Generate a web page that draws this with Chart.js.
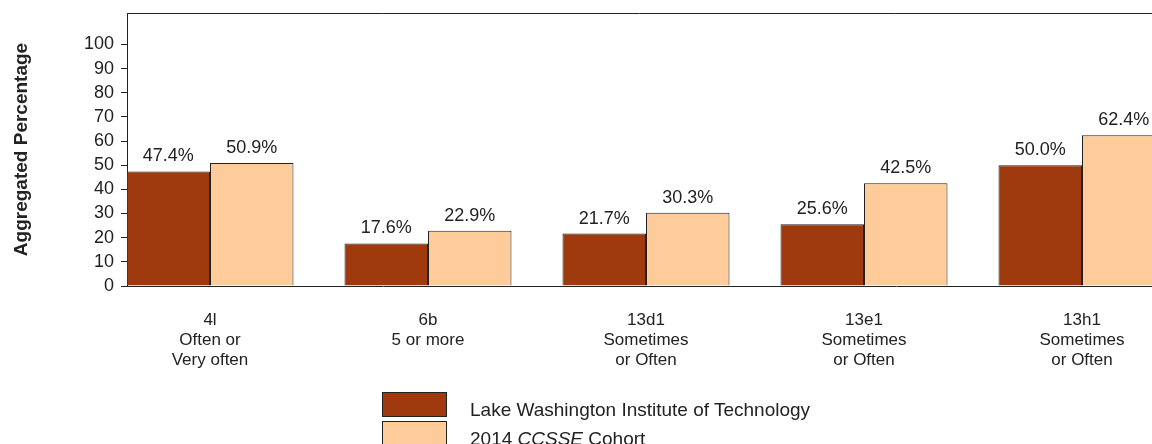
<!DOCTYPE html>
<html lang="en">
<head>
  <meta charset="UTF-8">
  <title>Aggregated Percentage</title>
  <script src="https://cdn.jsdelivr.net/npm/chart.js"></script>
  <style>
    body {
      margin: 0;
      padding: 0;
      background: #ffffff;
      overflow: hidden;
      font-family: "Liberation Sans", Arial, sans-serif;
      color: #222;
    }

    .wrap {
      position: relative;
      width: 1152px;
      height: 444px;
    }

    .legenda-box {
      position: absolute;
      left: 382px;
      width: 63px;
      height: 23px;
      border: 1px solid #222;
    }

    .legenda-txt {
      position: absolute;
      left: 470px;
      font-size: 19px;
      line-height: 19px;
      white-space: nowrap;
    }
  </style>
</head>
<body>
  <div class="wrap">
    <canvas id="grafico" width="1152" height="444"></canvas>
    <div class="legenda-box" style="top:392px; background:#9e3a0e;"></div>
    <div class="legenda-box" style="top:421px; background:#fecb9a;"></div>
    <div class="legenda-txt" style="top:400px;">Lake Washington Institute of Technology</div>
    <div class="legenda-txt" style="top:429px;">2014 <i>CCSSE</i> Cohort</div>
  </div>

  <script>
    // dados
    const categorias = [
      ['4l', 'Often or', 'Very often'],
      ['6b', '5 or more'],
      ['13d1', 'Sometimes', 'or Often'],
      ['13e1', 'Sometimes', 'or Often'],
      ['13h1', 'Sometimes', 'or Often']
    ];
    const faculdade = [47.4, 17.6, 21.7, 25.6, 50.0];
    const cohort = [50.9, 22.9, 30.3, 42.5, 62.4];
    const yTicks = [0, 10, 20, 30, 40, 50, 60, 70, 80, 90, 100];

    const fonte = '"Liberation Sans", Arial, sans-serif';
    const corLinha = '#222';

    // rotulos em cima das barras + linha do topo
    const rotulos = {
      id: 'rotulos',
      afterDatasetsDraw(chart) {
        const ctx = chart.ctx;
        const area = chart.chartArea;
        ctx.save();
        ctx.strokeStyle = corLinha;
        ctx.lineWidth = 1;
        ctx.beginPath();
        ctx.moveTo(area.left, area.top + 0.5);
        ctx.lineTo(area.right, area.top + 0.5);
        ctx.stroke();

        ctx.font = '18px ' + fonte;
        ctx.fillStyle = '#222';
        ctx.textAlign = 'center';
        ctx.textBaseline = 'alphabetic';
        chart.data.datasets.forEach((ds, i) => {
          chart.getDatasetMeta(i).data.forEach((bar, j) => {
            ctx.fillText(ds.data[j].y.toFixed(1) + '%', bar.x, bar.y - 10);
          });
        });
        ctx.restore();
      }
    };

    new Chart(document.getElementById('grafico'), {
      type: 'bar',
      data: {
        datasets: [
          {
            label: 'Lake Washington Institute of Technology',
            data: faculdade.map((v, i) => ({ x: i, y: v })),
            backgroundColor: '#9e3a0e',
            borderColor: corLinha,
            borderWidth: 1
          },
          {
            label: '2014 CCSSE Cohort',
            data: cohort.map((v, i) => ({ x: i, y: v })),
            backgroundColor: '#fecb9a',
            borderColor: corLinha,
            borderWidth: 1
          }
        ]
      },
      options: {
        responsive: false,
        animation: false,
        layout: { padding: { top: 13, right: 0, left: 0, bottom: 0 } },
        categoryPercentage: 0.766,
        barPercentage: 1,
        plugins: {
          legend: { display: false },
          tooltip: { enabled: false }
        },
        scales: {
          x: {
            type: 'linear',
            offset: false,
            min: -0.3807,
            max: 4.3211,
            grid: { display: false, drawTicks: false, offset: false },
            border: { display: true, color: corLinha, width: 1 },
            afterBuildTicks: (axis) => {
              axis.ticks = categorias.map((c, i) => ({ value: i }));
            },
            afterFit: (axis) => {
              axis.height = 158;
              axis.paddingLeft = 0;
              axis.paddingRight = 0;
            },
            ticks: {
              padding: 24,
              autoSkip: false,
              maxRotation: 0,
              color: '#222',
              font: { family: fonte, size: 17, lineHeight: '20px' },
              callback: (v) => categorias[v]
            }
          },
          y: {
            min: 0,
            max: 113,
            afterBuildTicks: (axis) => {
              axis.ticks = yTicks.map(v => ({ value: v }));
            },
            afterFit: (axis) => {
              axis.width = 127;
              axis.paddingTop = 0;
              axis.paddingBottom = 0;
            },
            grid: {
              drawOnChartArea: false,
              drawTicks: true,
              tickLength: 6,
              color: corLinha
            },
            border: { display: true, color: corLinha, width: 1 },
            ticks: {
              padding: 7,
              color: '#222',
              font: { family: fonte, size: 18 }
            },
            title: {
              display: true,
              text: 'Aggregated Percentage',
              color: '#222',
              padding: { top: 10, bottom: 0 },
              font: { family: fonte, size: 19, weight: 'bold' }
            }
          }
        }
      },
      plugins: [rotulos]
    });
  </script>
</body>
</html>
